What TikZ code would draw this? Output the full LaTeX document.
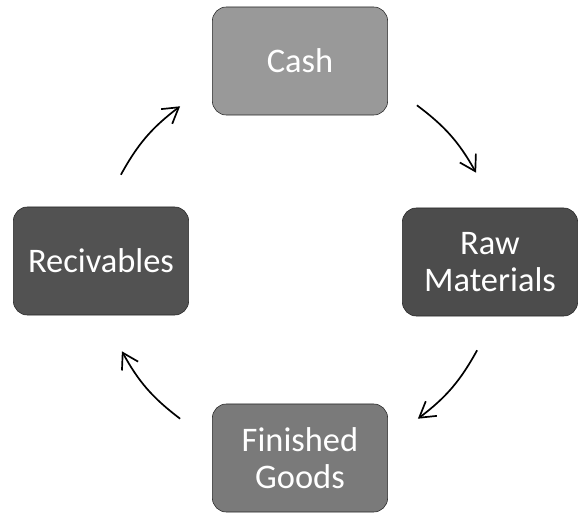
\documentclass[tikz,border=0pt]{standalone}
\usepackage{fontspec}
\setmainfont{Carlito}
\usetikzlibrary{arrows.meta,positioning}

\begin{document}
\begin{tikzpicture}[
    x=0.025cm, y=-0.025cm,
    stage/.style={rectangle, draw=black!85, rounded corners=0.35cm, minimum height=2.7cm, minimum width=4.38cm, text centered, align=center, text=white, font=\fontsize{24.5}{26.5}\selectfont},
    cyc/.style={-{Straight Barb[length=0.38cm, width=0.46cm]}, line width=1.2pt}
]
\useasboundingbox (0,0) rectangle (579,513);

\node[stage, fill=black!40] (cash) at (300,61) {Cash};
\node[stage, fill=black!70] (raw) at (490,262) {Raw\\Materials};
\node[stage, fill=black!52] (goods) at (300,458) {Finished\\Goods};
\node[stage, fill=black!68] (recv) at (101,261) {Recivables};

% cycle arrows, kept off the boxes
\draw[cyc] ([shift={(29,-10)}]cash.south east) to[bend left=12] ([shift={(74,-35)}]raw.north west);
\draw[cyc] ([shift={(75,34)}]raw.south west) to[bend left=12] ([shift={(30,15)}]goods.north east);
\draw[cyc] ([shift={(-32,15)}]goods.north west) to[bend left=12] ([shift={(-67,36)}]recv.south east);
\draw[cyc] ([shift={(-68,-32)}]recv.north east) to[bend left=12] ([shift={(-32,-9)}]cash.south west);
\end{tikzpicture}
\end{document}
